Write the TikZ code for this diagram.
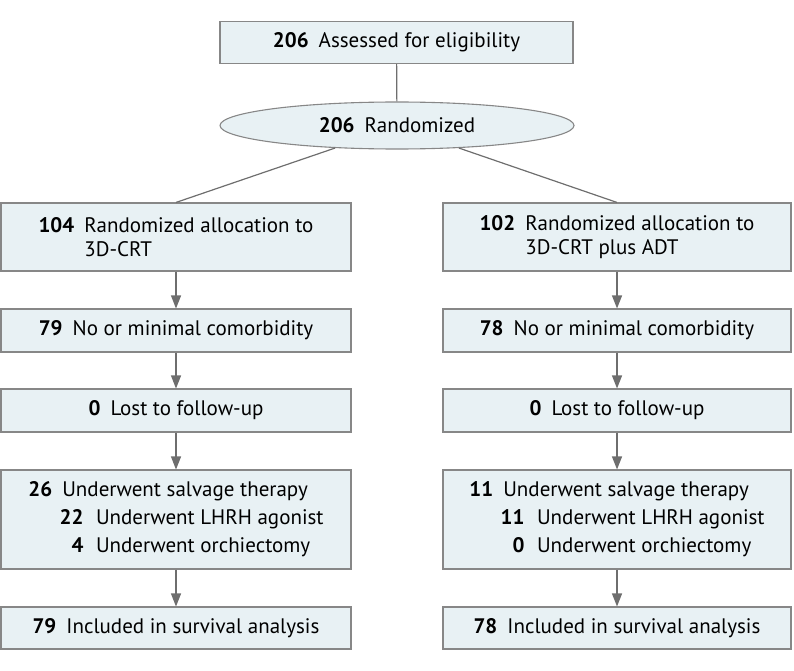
\documentclass[tikz,border=0pt]{standalone}
\usepackage{fontspec}
\setmainfont{PT Sans}
\usetikzlibrary{shapes.geometric,arrows.meta}
\definecolor{boxfill}{RGB}{232,241,244}
\definecolor{boxline}{RGB}{135,135,135}
\definecolor{conline}{RGB}{110,110,110}
\newcommand{\nb}[1]{\textbf{#1}\hspace{0.48em}}
\newcommand{\sub}[2]{\makebox[2.62em][r]{\textbf{#1}}\hspace{0.6em}#2}
\begin{document}
\begin{tikzpicture}[x=1pt,y=-1pt,
  every node/.style={font=\fontsize{21}{24}\selectfont},
  box/.style={draw=boxline,fill=boxfill,line width=1.1pt,rectangle,inner sep=0pt,align=left},
  ell/.style={draw=boxline,fill=boxfill,line width=1.1pt,ellipse,inner sep=0pt},
  conn/.style={draw=conline,line width=1.2pt},
  arr/.style={conn,-{Triangle[length=13pt,width=10pt]}}]
\useasboundingbox (0,0) rectangle (794,671);
\node[box,minimum width=353pt,minimum height=42pt] (top) at (396.5,42.5) {\nb{206}Assessed for eligibility};
\node[ell,minimum width=354pt,minimum height=47pt] (rand) at (397,125.5) {\nb{206}Randomized};
% left column
\node[box,minimum width=350pt,minimum height=68pt] (l1) at (176,237) {\nb{104}Randomized allocation to\\\hphantom{\nb{104}}3D-CRT};
\node[box,minimum width=350pt,minimum height=43pt] (l2) at (176,330.5) {\nb{79}No or minimal comorbidity};
\node[box,minimum width=350pt,minimum height=43pt] (l3) at (176,410.5) {\nb{0}Lost to follow-up};
\node[box,minimum width=350pt,minimum height=99pt,font=\fontsize{21}{28}\selectfont] (l4) at (176,519.5) {\nb{26}Underwent salvage therapy\\\sub{22}{Underwent LHRH agonist}\\\sub{4}{Underwent orchiectomy}};
\node[box,minimum width=350pt,minimum height=42pt] (l5) at (176,628) {\nb{79}Included in survival analysis};
% right column
\node[box,minimum width=348pt,minimum height=68pt] (r1) at (617,237) {\nb{102}Randomized allocation to\\\hphantom{\nb{102}}3D-CRT plus ADT};
\node[box,minimum width=348pt,minimum height=43pt] (r2) at (617,330.5) {\nb{78}No or minimal comorbidity};
\node[box,minimum width=348pt,minimum height=43pt] (r3) at (617,410.5) {\nb{0}Lost to follow-up};
\node[box,minimum width=348pt,minimum height=99pt,font=\fontsize{21}{28}\selectfont] (r4) at (617,519.5) {\nb{11}Underwent salvage therapy\\\sub{11}{Underwent LHRH agonist}\\\sub{0}{Underwent orchiectomy}};
\node[box,minimum width=348pt,minimum height=42pt] (r5) at (617,628) {\nb{78}Included in survival analysis};
% connectors
\draw[conn] (top) -- (rand);
\draw[conn] (rand.200) -- (l1.north);
\draw[conn] (rand.-20) -- (r1.north);
\draw[arr] (l1) -- (l2);
\draw[arr] (l2) -- (l3);
\draw[arr] (l3) -- (l4);
\draw[arr] (l4) -- (l5);
\draw[arr] (r1) -- (r2);
\draw[arr] (r2) -- (r3);
\draw[arr] (r3) -- (r4);
\draw[arr] (r4) -- (r5);
\end{tikzpicture}
\end{document}
